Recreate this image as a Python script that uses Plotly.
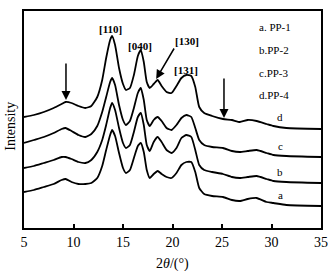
import plotly.graph_objects as go

two_theta = [5, 6, 7, 8, 8.8, 9.2, 9.8, 10.5, 11.2, 11.8, 12.4, 12.9, 13.3, 13.7, 13.9,
             14.2, 14.6, 15.0, 15.3, 15.7, 16.1, 16.5, 16.8, 17.1, 17.4, 17.7, 18.1,
             18.5, 18.9, 19.4, 19.9, 20.4, 20.9, 21.4, 21.9, 22.3, 22.7, 23.2, 24,
             25.1, 26, 26.8, 27.6, 28.5, 29.5, 30.2, 31.5, 35]

pp4_d = [111, 113, 116, 120, 124, 126, 125, 122, 120, 122, 131, 148, 170, 188, 192,
         183, 160, 144, 138, 140, 153, 172, 178, 166, 146, 140, 144,
         148, 142, 136, 135, 142, 150, 153, 152, 141, 121, 115, 112,
         109, 108, 106, 108, 107, 104, 102, 100, 99]
pp3_c = [85, 88, 91, 95, 99, 100, 97, 93, 91, 94, 102, 116, 131, 146, 150,
         143, 123, 108, 103, 107, 120, 135, 140, 128, 108, 102, 108,
         111, 107, 100, 98, 103, 110, 113, 111, 100, 88, 83, 81,
         80, 77, 76, 77, 78, 75, 73, 72, 71]
pp2_b = [60, 62, 65, 68, 71, 71, 69, 66, 65, 68, 76, 88, 103, 120, 125,
         118, 100, 85, 80, 83, 96, 111, 115, 103, 83, 77, 86,
         91, 86, 78, 75, 80, 90, 93, 91, 78, 63, 58, 56,
         54, 51, 50, 51, 52, 49, 47, 46, 45]
pp1_a = [36, 38, 41, 44, 48, 49, 46, 44, 44, 45, 50, 62, 78, 93, 98,
         92, 75, 60, 55, 58, 70, 82, 85, 76, 58, 50, 54,
         57, 54, 51, 50, 55, 63, 66, 66, 56, 40, 34, 32,
         31, 28, 27, 29, 30, 26, 25, 23, 22]

series = [("a", pp1_a), ("b", pp2_b), ("c", pp3_c), ("d", pp4_d)]
curve_labels = ["a", "b", "c", "d"]
label_y = [33, 56, 82, 111]
legend_text = ["a. PP-1", "b.PP-2", "c.PP-3", "d.PP-4"]
legend_y = [201, 178, 155, 133]
peak_labels = ["[110]", "[040]", "[130]", "[131]"]
peak_x = [13.69, 16.67, 21.5, 21.36]
peak_y = [199, 182, 187, 158]
x_ticks = [5, 10, 15, 20, 25, 30, 35]

serif = "Liberation Serif, Times New Roman, serif"

fig = go.Figure()
for name, ys in series:
    fig.add_trace(go.Scatter(x=two_theta, y=ys, mode="lines", name=name,
                             line=dict(color="black", width=1.8, shape="spline", smoothing=0.5),
                             showlegend=False, hoverinfo="skip"))

ann = []
for t, yy in zip(curve_labels, label_y):
    ann.append(dict(x=30.86, y=yy, text=t, showarrow=False, xanchor="center", yanchor="middle",
                    font=dict(family=serif, size=11, color="black")))
for t, yy in zip(legend_text, legend_y):
    ann.append(dict(x=28.5, y=yy, text=t, showarrow=False, xanchor="left", yanchor="middle",
                    font=dict(family=serif, size=11, color="black")))
for t, xx, yy in zip(peak_labels, peak_x, peak_y):
    ann.append(dict(x=xx, y=yy, text="<b>" + t + "</b>", showarrow=False, xanchor="center", yanchor="middle",
                    font=dict(family=serif, size=11, color="black")))

# arrows (tip, tail)
arrows = [((9.24, 128), (9.24, 166)), ((25.2, 110), (25.2, 151)), ((18.35, 149), (20.25, 181))]
for (tx, ty), (sx, sy) in arrows:
    ann.append(dict(x=tx, y=ty, ax=sx, ay=sy, axref="x", ayref="y", xref="x", yref="y",
                    text="", showarrow=True, arrowhead=2, arrowsize=1.2, arrowwidth=1.5,
                    arrowcolor="black"))

# axis titles as paper-positioned annotations
ann.append(dict(xref="paper", yref="paper", x=0.5, y=-0.12, text="2<i>θ</i>/(°)", showarrow=False,
                xanchor="center", yanchor="top", font=dict(family=serif, size=14, color="black")))
ann.append(dict(xref="paper", yref="paper", x=-0.048, y=0.47, text="Intensity", showarrow=False,
                textangle=-90, xanchor="center", yanchor="middle",
                font=dict(family=serif, size=14, color="black")))

fig.update_layout(
    width=328, height=271,
    margin=dict(l=24, r=7, t=11, b=43, autoexpand=False),
    paper_bgcolor="white", plot_bgcolor="white",
    annotations=ann,
    xaxis=dict(range=[5, 35], tickvals=x_ticks, ticks="inside", ticklen=4, tickwidth=1.5,
               tickcolor="black", showline=True, linecolor="black", linewidth=1.5, mirror=True,
               showgrid=False, zeroline=False, automargin=False,
               tickfont=dict(family=serif, size=14, color="black")),
    yaxis=dict(range=[0, 217], showticklabels=False, ticks="", showline=True, linecolor="black",
               linewidth=1.5, mirror=True, showgrid=False, zeroline=False, automargin=False),
)

fig.write_html("out.html", config={"displayModeBar": False},
               post_script="document.body.style.margin='0';document.body.style.overflow='hidden';")
